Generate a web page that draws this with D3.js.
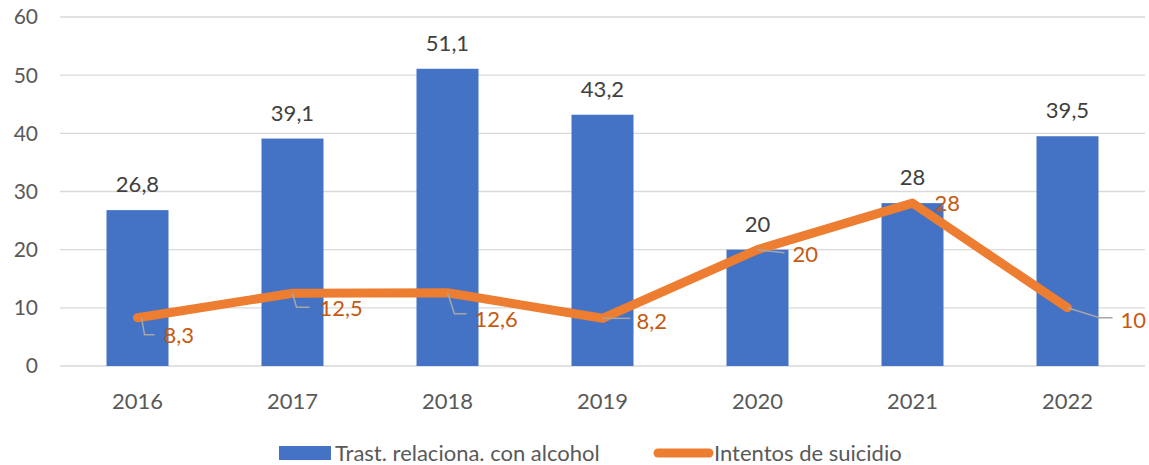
<!DOCTYPE html>
<html>
<head>
<meta charset="utf-8">
<script src="https://cdn.jsdelivr.net/npm/d3@7"></script>
<style>
  body { margin: 0; background: #fff; }
  svg text { font-family: Lato, "Open Sans", sans-serif; }
</style>
</head>
<body>
<div id="chart"></div>
<script>
// Data
var years = ["2016", "2017", "2018", "2019", "2020", "2021", "2022"];
var alcohol = [26.8, 39.1, 51.1, 43.2, 20, 28, 39.5];
var suicide = [8.3, 12.5, 12.6, 8.2, 20, 28, 10];
var yTicks = [0, 10, 20, 30, 40, 50, 60];
var seriesNames = ["Trast. relaciona. con alcohol", "Intentos de suicidio"];

var width = 1149, height = 465;
var fmt = function(v) { return String(v).replace(".", ","); };

var svg = d3.select("#chart").append("svg")
    .attr("width", width)
    .attr("height", height);

var x = d3.scaleBand()
    .domain(years)
    .range([60, 1145])
    .paddingInner(0.6)
    .paddingOuter(0.3);

var y = d3.scaleLinear()
    .domain([0, 60])
    .range([366, 17]);

// gridlines
svg.append("g")
   .selectAll("line")
   .data(yTicks)
   .enter().append("line")
   .attr("x1", 60)
   .attr("x2", 1145)
   .attr("y1", d => y(d))
   .attr("y2", d => y(d))
   .attr("stroke", "#d9d9d9")
   .attr("stroke-width", 1.3);

// y axis labels
svg.append("g")
   .selectAll("text")
   .data(yTicks)
   .enter().append("text")
   .attr("x", 38)
   .attr("y", d => y(d))
   .attr("dy", "0.35em")
   .attr("text-anchor", "end")
   .attr("fill", "#595959")
   .style("font-size", "21px")
   .text(d => d);

// x axis labels
svg.append("g")
   .selectAll("text")
   .data(years)
   .enter().append("text")
   .attr("x", d => x(d) + x.bandwidth() / 2)
   .attr("y", 401)
   .attr("dy", "0.35em")
   .attr("text-anchor", "middle")
   .attr("fill", "#595959")
   .style("font-size", "22px")
   .text(d => d);

// bars
svg.append("g")
   .selectAll("rect")
   .data(alcohol)
   .enter().append("rect")
   .attr("x", (d, i) => x(years[i]))
   .attr("y", d => y(d))
   .attr("width", x.bandwidth())
   .attr("height", d => y(0) - y(d))
   .attr("fill", "#4472c4");

// bar labels
svg.append("g")
   .selectAll("text")
   .data(alcohol)
   .enter().append("text")
   .attr("x", (d, i) => x(years[i]) + x.bandwidth() / 2)
   .attr("y", d => y(d) - 18)
   .attr("text-anchor", "middle")
   .attr("fill", "#404040")
   .style("font-size", "22px")
   .text(fmt);

// line
var cx = i => x(years[i]) + x.bandwidth() / 2;
var line = d3.line()
    .x((d, i) => cx(i))
    .y(d => y(d));

svg.append("path")
   .datum(suicide)
   .attr("d", line)
   .attr("fill", "none")
   .attr("stroke", "#ed7d31")
   .attr("stroke-width", 9)
   .attr("stroke-linejoin", "round")
   .attr("stroke-linecap", "round");

// label placement for the line labels (offset from point, leader polyline)
var labelDx = [26, 27, 27, 34, 35, 22, 53];
var labelDy = [18, 15, 27, 3, 5, 0, 12];
var leaders = [
    [[4, 0], [7, 17], [17, 17]],
    [[0, 0], [4, 14], [17, 14]],
    [[0, 0], [7, 21], [19, 21]],
    [[0, 0], [28, 0]],
    [[0, 0], [27, 3]],
    null,
    [[0, 0], [32, 10], [45, 10]]
];

svg.append("g")
   .selectAll("polyline")
   .data(suicide.map((d, i) => ({ v: d, i: i })).filter(d => leaders[d.i]))
   .enter().append("polyline")
   .attr("points", d => leaders[d.i].map(p => [cx(d.i) + p[0], y(d.v) + p[1]].join(",")).join(" "))
   .attr("fill", "none")
   .attr("stroke", "#a6a6a6")
   .attr("stroke-width", 1.5);

svg.append("g")
   .selectAll("text")
   .data(suicide)
   .enter().append("text")
   .attr("x", (d, i) => cx(i) + labelDx[i])
   .attr("y", (d, i) => y(d) + labelDy[i])
   .attr("dy", "0.35em")
   .attr("fill", "#c55a11")
   .style("font-size", "22px")
   .text(fmt);

// legend
var legend = svg.append("g");
legend.append("rect")
   .attr("x", 279).attr("y", 446)
   .attr("width", 52).attr("height", 14)
   .attr("fill", "#4472c4");
legend.append("text")
   .attr("x", 335).attr("y", 453)
   .attr("dy", "0.35em")
   .attr("fill", "#595959")
   .style("font-size", "22px")
   .text(seriesNames[0]);
legend.append("line")
   .attr("x1", 658).attr("x2", 709)
   .attr("y1", 453).attr("y2", 453)
   .attr("stroke", "#ed7d31")
   .attr("stroke-width", 9)
   .attr("stroke-linecap", "round");
legend.append("text")
   .attr("x", 714).attr("y", 453)
   .attr("dy", "0.35em")
   .attr("fill", "#595959")
   .style("font-size", "22px")
   .text(seriesNames[1]);
</script>
</body>
</html>
